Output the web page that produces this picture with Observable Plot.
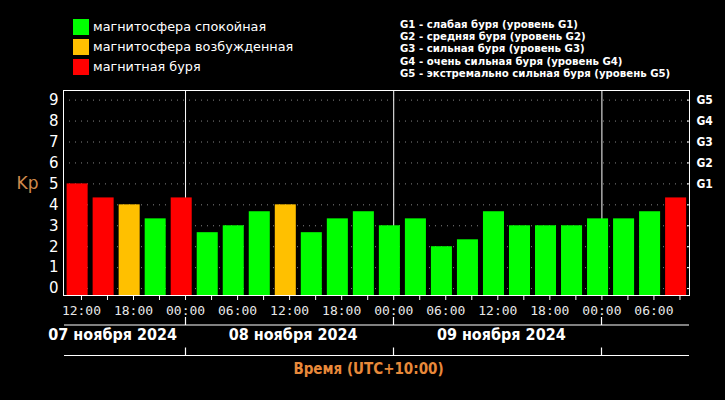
<!DOCTYPE html>
<html>
<head>
<meta charset="utf-8">
<script src="https://cdn.jsdelivr.net/npm/d3@7"></script>
<script src="https://cdn.jsdelivr.net/npm/@observablehq/plot@0.6"></script>
<style>
  html, body { margin: 0; padding: 0; background: #000; }
  #chart { width: 725px; height: 400px; overflow: hidden; }
</style>
</head>
<body>
<div id="chart"></div>
<script>
// ---- data (hours counted from 00:00, 07 Nov 2024, UTC+10) ----
const kpValues = [5.0, 4.33, 4.0, 3.33, 4.33, 2.67, 3.0, 3.67, 4.0, 2.67, 3.33, 3.67,
                  3.0, 3.33, 2.0, 2.33, 3.67, 3.0, 3.0, 3.0, 3.33, 3.33, 3.67, 4.33];
const kpStatus = ["storm", "storm", "active", "quiet", "storm", "quiet", "quiet", "quiet",
                  "active", "quiet", "quiet", "quiet", "quiet", "quiet", "quiet", "quiet",
                  "quiet", "quiet", "quiet", "quiet", "quiet", "quiet", "quiet", "storm"];
const slotStartHours = [10, 13, 16, 19, 22, 25, 28, 31, 34, 37, 40, 43,
                        46, 49, 52, 55, 58, 61, 64, 67, 70, 73, 76, 79];
const slotLength = 3;
const tickHours = [12, 15, 18, 21, 24, 27, 30, 33, 36, 39, 42, 45, 48, 51, 54, 57, 60, 63, 66, 69, 72, 75, 78, 81];
const timeLabelHours = [12, 18, 24, 30, 36, 42, 48, 54, 60, 66, 72, 78];
const midnightHours = [24, 48, 72];
const dayLabels = ["07 ноября 2024", "08 ноября 2024", "09 ноября 2024"];
const dayLabelHours = [15.6, 36.4, 60.4];
const kpTicks = [0, 1, 2, 3, 4, 5, 6, 7, 8, 9];
const gTicks = [5, 6, 7, 8, 9];
const gLabels = ["G1", "G2", "G3", "G4", "G5"];
const legendKeys = ["quiet", "active", "storm"];
const legendLabels = ["магнитосфера спокойная", "магнитосфера возбужденная", "магнитная буря"];
const gLegendLines = [
  "G1 - слабая буря (уровень G1)",
  "G2 - средняя буря (уровень G2)",
  "G3 - сильная буря (уровень G3)",
  "G4 - очень сильная буря (уровень G4)",
  "G5 - экстремально сильная буря (уровень G5)"
];
const xAxisTitle = "Время (UTC+10:00)";
const yAxisTitle = "Kp";

const statusColor = {quiet: "#00ff00", active: "#ffc000", storm: "#ff0000"};
const xDomain = [9.93, 82.1];
const yDomain = [-0.33, 9.46];

const rows = kpValues.map((v, i) => ({
  start: slotStartHours[i], end: slotStartHours[i] + slotLength, kp: v, status: kpStatus[i]
}));
const pad2 = n => String(n).padStart(2, "0");
const fmtTime = h => pad2(((h % 24) + 24) % 24) + ":00";

const plot = Plot.plot({
  width: 725,
  height: 400,
  marginTop: 90,
  marginBottom: 105,
  marginLeft: 63,
  marginRight: 36,
  style: {background: "#000", color: "#fff", fontFamily: "DejaVu Sans, sans-serif"},
  x: {type: "linear", domain: xDomain, axis: null},
  y: {domain: yDomain, axis: null},
  marks: [
    Plot.ruleY(kpTicks, {stroke: "#bbb", strokeOpacity: 0.7, strokeDasharray: "1,5"}),
    Plot.ruleX(midnightHours, {stroke: "#fff", strokeWidth: 1}),
    Plot.rect(rows, {
      x1: "start", x2: "end", y1: () => yDomain[0], y2: "kp",
      fill: d => statusColor[d.status], insetLeft: 3, insetRight: 2
    }),
    Plot.frame({stroke: "#fff", strokeWidth: 1}),
    // left Kp tick labels
    Plot.axisY({anchor: "left", ticks: kpTicks, tickSize: 0, tickPadding: 5, label: null,
      fontSize: 15, fontFamily: "DejaVu Sans, sans-serif", fill: "#fff"}),
    // right G labels
    Plot.axisY({anchor: "right", ticks: gTicks, tickSize: 0, tickPadding: 7, label: null,
      tickFormat: d => gLabels[gTicks.indexOf(d)],
      fontSize: 12, fontWeight: "bold", fontFamily: "DejaVu Sans Condensed, DejaVu Sans, sans-serif", fill: "#fff"}),
    // small inner ticks on the right edge
    Plot.axisY({anchor: "right", ticks: kpTicks, tickSize: -3, tickFormat: () => "", label: null, stroke: "#fff"}),
    // bottom 3h ticks
    Plot.axisX({ticks: tickHours, tickSize: 5, tickFormat: () => "", label: null, stroke: "#fff"}),
    // time labels
    Plot.axisX({ticks: timeLabelHours, tickSize: 0, tickPadding: 10, tickFormat: fmtTime, label: null,
      fontSize: 13, fontFamily: "DejaVu Sans Mono, monospace", fill: "#e8e8e8"}),
    // date labels
    Plot.text(dayLabels, {
      x: (d, i) => dayLabelHours[i], text: d => d, frameAnchor: "bottom", dy: 44,
      fontSize: 16, fontWeight: "bold", fontFamily: "Liberation Sans Narrow, DejaVu Sans Condensed, sans-serif",
      fill: "#fff"
    }),
    // x axis title
    Plot.text([xAxisTitle], {
      frameAnchor: "bottom", dy: 78, dx: -8, text: d => d,
      fontSize: 15, fontWeight: "bold", fontFamily: "DejaVu Sans Condensed, sans-serif", fill: "#e8893a"
    }),
    // y axis title
    Plot.text([yAxisTitle], {
      x: () => xDomain[0], y: () => 5, dx: -36, text: d => d,
      fontSize: 17, fontFamily: "DejaVu Sans, sans-serif", fill: "#cf8a4c"
    })
  ]
});

document.getElementById("chart").appendChild(plot);

// bottom separator lines with day ticks, positioned via the plot's own scales
const sx = plot.scale("x"), sy = plot.scale("y");
const svg = d3.select(plot);
const yBottom = sy.apply(yDomain[0]);
const xL = sx.apply(xDomain[0]), xR = sx.apply(xDomain[1]);
[[30, 8], [60.5, 8]].forEach(([off, tick]) => {
  const g = svg.append("g").attr("stroke", "#fff").attr("stroke-width", 1.2);
  g.append("line").attr("x1", xL + 1).attr("x2", xR).attr("y1", yBottom + off).attr("y2", yBottom + off);
  midnightHours.forEach(h => {
    const x = Math.round(sx.apply(h)) + 0.5;
    g.append("line").attr("x1", x).attr("x2", x).attr("y1", yBottom + off - tick).attr("y2", yBottom + off);
  });
});

// top-left colour legend
const leg = svg.append("g").attr("font-family", "DejaVu Sans, sans-serif").attr("font-size", 12.8)
  .attr("text-anchor", "start");
legendKeys.forEach((k, i) => {
  const y0 = 19 + i * 20;
  leg.append("rect").attr("x", 73).attr("y", y0).attr("width", 16).attr("height", 16).attr("fill", statusColor[k]);
  leg.append("text").attr("x", 93).attr("y", y0 + 8).attr("dy", "0.35em").attr("fill", "#fff").text(legendLabels[i]);
});

// top-right G legend
const gl = svg.append("g").attr("font-family", "DejaVu Sans Condensed, DejaVu Sans, sans-serif")
  .attr("font-size", 11.3).attr("font-weight", "bold").attr("text-anchor", "start");
gLegendLines.forEach((t, i) => {
  gl.append("text").attr("x", 400).attr("y", 24 + i * 12.2).attr("dy", "0.35em").attr("fill", "#fff").text(t);
});
</script>
</body>
</html>
